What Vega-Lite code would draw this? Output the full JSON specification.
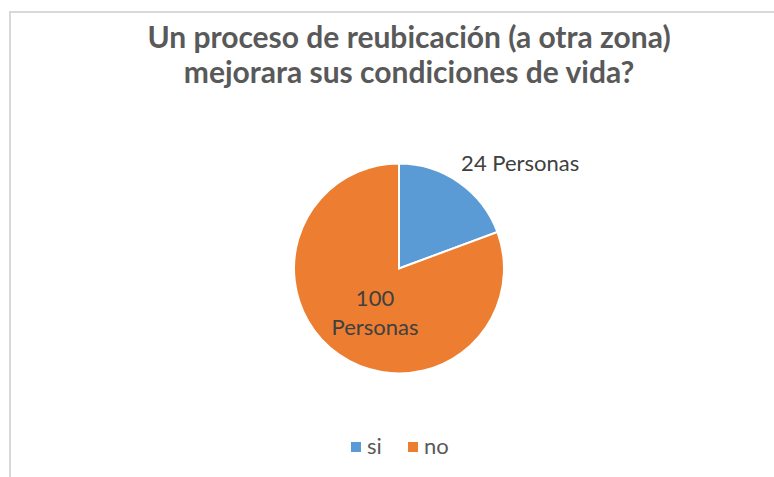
{
  "$schema": "https://vega.github.io/schema/vega-lite/v6.json",
  "width": 778,
  "height": 513,
  "autosize": {"type": "none"},
  "padding": {"left": 10, "top": 12, "right": 0, "bottom": 0},
  "background": "white",
  "view": {"stroke": "#D9D9D9", "strokeWidth": 2},
  "config": {"view": {"stroke": "#D9D9D9", "strokeWidth": 2}, "font": "Lato"},
  "title": {
    "text": ["Un proceso de reubicación (a otra zona)", "mejorara sus condiciones de vida?"],
    "fontSize": 30,
    "font": "Lato",
    "fontWeight": "bold",
    "color": "#595959",
    "anchor": "middle",
    "frame": "group",
    "offset": -77,
    "dx": 10,
    "lineHeight": 35
  },
  "data": {
    "values": [
      {"respuesta": "si", "personas": 24, "etiqueta": "24 Personas"},
      {"respuesta": "no", "personas": 100, "etiqueta": "100\nPersonas"}
    ]
  },
  "encoding": {
    "theta": {"field": "personas", "type": "quantitative", "stack": true},
    "order": {"field": "personas", "type": "quantitative", "sort": "ascending"},
    "detail": {"field": "respuesta", "type": "nominal"}
  },
  "layer": [
    {
      "mark": {"type": "arc", "outerRadius": 105, "stroke": "white", "strokeWidth": 2},
      "encoding": {
        "color": {
          "field": "respuesta",
          "type": "nominal",
          "scale": {"domain": ["si", "no"], "range": ["#5B9BD5", "#ED7D31"]},
          "legend": {
            "title": null,
            "orient": "none",
            "direction": "horizontal",
            "legendX": 335,
            "legendY": 424,
            "symbolType": "square",
            "symbolSize": 100,
            "symbolStrokeWidth": 0,
            "labelFontSize": 22,
            "labelColor": "#595959",
            "labelFont": "Lato",
            "labelOffset": 0,
            "columnPadding": 20
          }
        }
      }
    },
    {
      "mark": {"type": "text", "radius": 128, "align": "left", "dx": -11, "dy": 1, "baseline": "middle", "fontSize": 22, "color": "#404040"},
      "encoding": {
        "text": {"condition": {"test": "datum.respuesta == 'si'", "field": "etiqueta"}, "value": ""}
      }
    },
    {
      "mark": {"type": "text", "radius": 49, "align": "center", "baseline": "middle", "dx": 4, "dy": -10, "fontSize": 22, "lineBreak": "\n", "lineHeight": 29, "color": "#404040"},
      "encoding": {
        "text": {"condition": {"test": "datum.respuesta == 'no'", "field": "etiqueta"}, "value": ""}
      }
    }
  ]
}
